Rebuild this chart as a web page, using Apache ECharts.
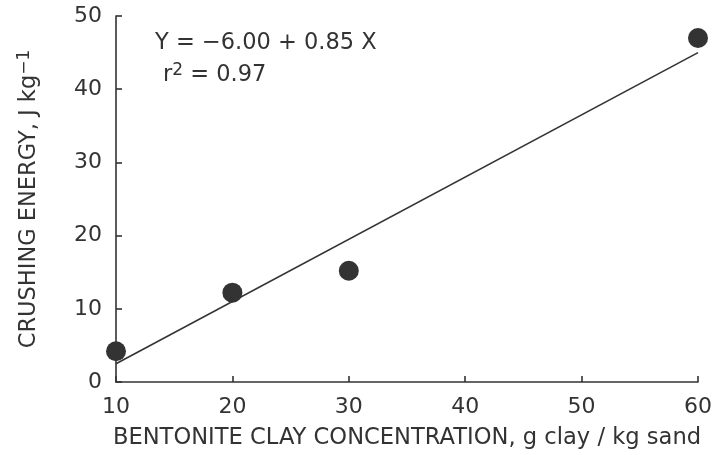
<!DOCTYPE html>
<html>
<head>
<meta charset="utf-8">
<script src="https://cdn.jsdelivr.net/npm/echarts@6/dist/echarts.min.js"></script>
<style>html,body{margin:0;padding:0;background:#fff;}#c{width:715px;height:455px;}</style>
</head>
<body>
<div id="c"></div>
<script>
var clayConc = [10, 20, 30, 60];
var crushEnergy = [4.2, 12.2, 15.2, 47.0];
var fitX = [10, 60];
var fitY = [2.5, 45.0];
var xTicks = [10, 20, 30, 40, 50, 60];
var yTicks = [0, 10, 20, 30, 40, 50];

var ink = '#333';
var font = 'DejaVu Sans';
var chart = echarts.init(document.getElementById('c'));
chart.setOption({
  animation: false,
  backgroundColor: '#fff',
  grid: { left: 116, right: 15, top: 16, bottom: 72 },
  xAxis: {
    type: 'value', min: xTicks[0], max: xTicks[xTicks.length - 1], interval: 10,
    name: 'BENTONITE CLAY CONCENTRATION, g clay / kg sand',
    nameLocation: 'middle', nameGap: 45,
    nameTextStyle: { color: ink, fontFamily: font, fontSize: 22.6 },
    axisLine: { lineStyle: { color: ink, width: 1.6 } },
    axisTick: { inside: true, length: 6, lineStyle: { color: ink, width: 1.6 } },
    axisLabel: { color: ink, fontFamily: font, fontSize: 22, margin: 14 },
    splitLine: { show: false }
  },
  yAxis: {
    type: 'value', min: yTicks[0], max: yTicks[yTicks.length - 1], interval: 10,
    name: 'CRUSHING ENERGY, J kg{sup|\u22121}',
    nameLocation: 'middle', nameGap: 73,
    nameTextStyle: { color: ink, fontFamily: font, fontSize: 22.5,
      rich: { sup: { fontFamily: font, fontSize: 17, color: ink, verticalAlign: 'top', padding: [0, 0, 10, 0] } } },
    axisLine: { lineStyle: { color: ink, width: 1.6 } },
    axisTick: { inside: true, length: 6, lineStyle: { color: ink, width: 1.6 } },
    axisLabel: { color: ink, fontFamily: font, fontSize: 22, margin: 14 },
    splitLine: { show: false }
  },
  series: [
    {
      type: 'line', data: fitX.map(function (x, i) { return [x, fitY[i]]; }),
      showSymbol: false, symbol: 'none',
      lineStyle: { color: ink, width: 1.6 }, z: 2
    },
    {
      type: 'scatter', data: clayConc.map(function (x, i) { return [x, crushEnergy[i]]; }),
      symbolSize: 20, itemStyle: { color: ink, opacity: 1 }, z: 3
    }
  ],
  graphic: [
    { type: 'text', left: 155, top: 32, style: { text: 'Y = \u22126.00 + 0.85 X', fill: ink, font: '22.5px "DejaVu Sans"' } },
    { type: 'text', left: 163, top: 62, style: { text: 'r{sup|2} = 0.97', fill: ink, font: '22.5px "DejaVu Sans"',
      rich: { sup: { fontSize: 17, fontFamily: font, fill: ink, verticalAlign: 'top', padding: [0, 0, 10, 0] } } } }
  ]
});
</script>
</body>
</html>
